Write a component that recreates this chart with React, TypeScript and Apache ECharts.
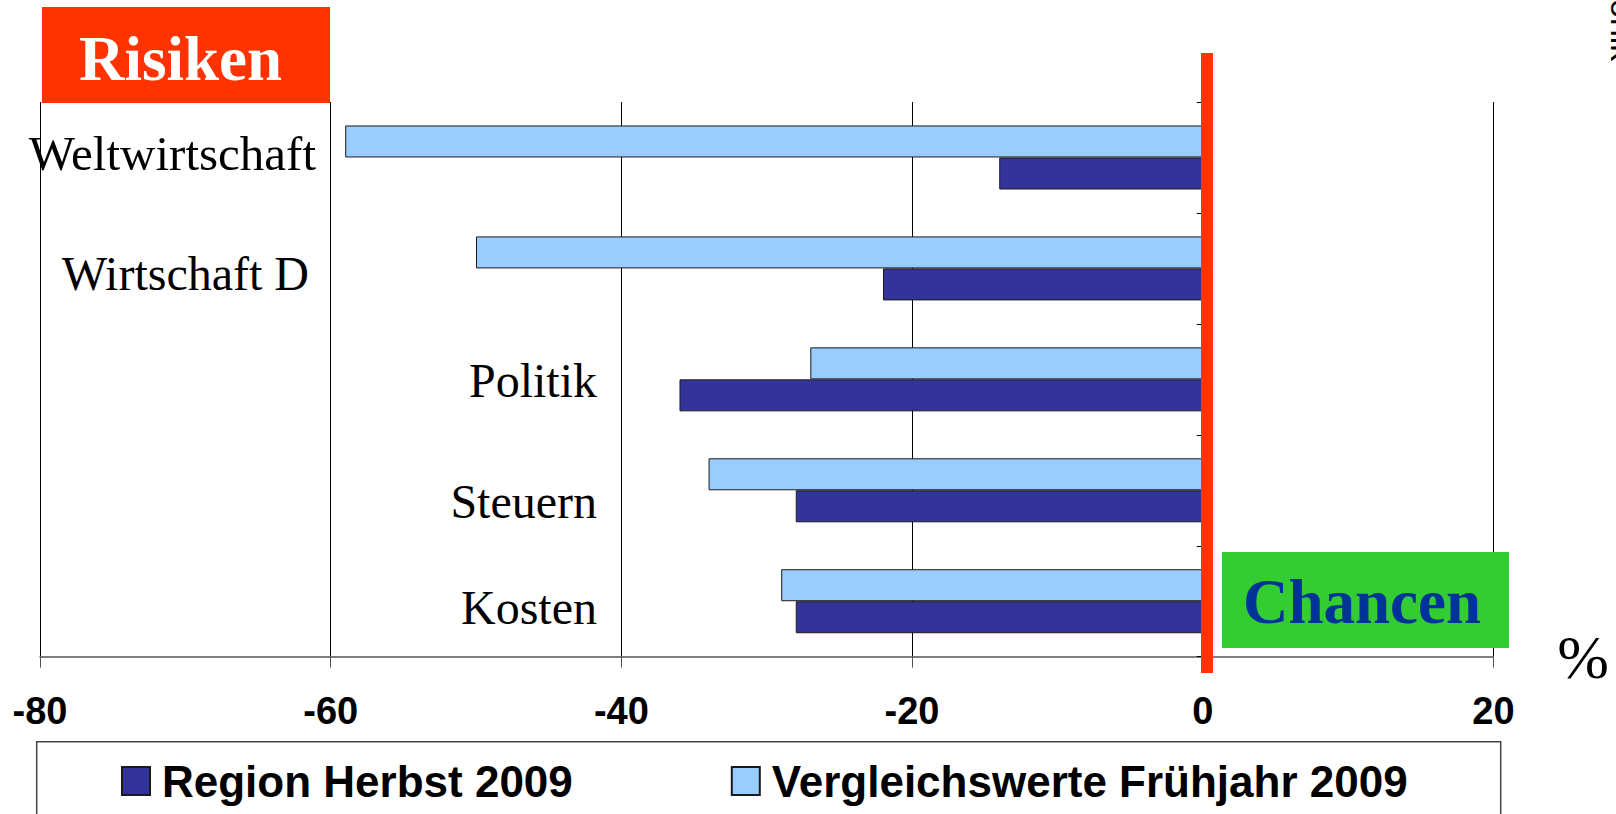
import React, { useEffect, useRef } from "react";
import * as echarts from "echarts";

const categories = ["Weltwirtschaft", "Wirtschaft D", "Politik", "Steuern", "Kosten"];
const regionHerbst2009 = [-14, -22, -36, -28, -28];
const vergleichFruehjahr2009 = [-59, -50, -27, -34, -29];
const seriesNames = ["Region Herbst 2009", "Vergleichswerte Frühjahr 2009"];
const xMin = -80;
const xMax = 20;
const xStep = 20;
const riskTitle = "Risiken";
const chanceTitle = "Chancen";
const unitLabel = "%";
const sideNote = "onik";

const SERIF = '"Liberation Serif", "Times New Roman", serif';
const SANS = '"Liberation Sans", Arial, sans-serif';

// positions of the category names (right edge, vertical centre)
const catLabelPos: [number, number][] = [
  [316, 153],
  [309, 273],
  [597, 380],
  [597, 501],
  [597, 607],
];

export default function App() {
  const ref = useRef<HTMLDivElement>(null);

  useEffect(() => {
    if (!ref.current) return;
    const chart = echarts.init(ref.current, undefined, { renderer: "svg" });

    const catTexts = categories.map((c, i) => ({
      type: "text",
      x: catLabelPos[i][0],
      y: catLabelPos[i][1],
      z: 100,
      style: {
        text: c,
        font: `${i === 0 ? 49 : 48}px ${SERIF}`,
        fill: "#000",
        align: "right",
        verticalAlign: "middle",
      },
    }));

    chart.setOption({
      animation: false,
      backgroundColor: "#fff",
      grid: { left: 40, right: 122.6, top: 102, bottom: 157.3, containLabel: false },
      xAxis: {
        type: "value",
        min: xMin,
        max: xMax,
        interval: xStep,
        position: "bottom",
        axisLine: { show: true, lineStyle: { color: "#555", width: 1.5 } },
        axisTick: { show: true, length: 11, lineStyle: { color: "#555", width: 1 } },
        splitLine: { show: true, lineStyle: { color: "#000", width: 1 } },
        axisLabel: {
          fontSize: 38,
          fontWeight: "bold",
          fontFamily: SANS,
          color: "#000",
          margin: 35,
        },
      },
      yAxis: {
        type: "category",
        data: categories,
        inverse: true,
        axisLine: { show: true, onZero: true, lineStyle: { color: "#000", width: 1 } },
        axisTick: { show: true, length: 6, lineStyle: { color: "#000" } },
        axisLabel: { show: false },
        splitLine: { show: false },
      },
      legend: {
        data: seriesNames,
        left: 121,
        top: 759,
        padding: 0,
        itemWidth: 28,
        itemHeight: 28,
        itemGap: 158,
        icon: "rect",
        textStyle: {
          fontSize: 44,
          fontWeight: "bold",
          fontFamily: SANS,
          color: "#000",
          padding: [0, 0, 0, 7],
        },
      },
      series: [
        {
          name: seriesNames[1],
          type: "bar",
          data: vergleichFruehjahr2009,
          barWidth: 32,
          barGap: "0%",
          itemStyle: { color: "#99CCFF", borderColor: "#1a1a1a", borderWidth: 1 },
        },
        {
          name: seriesNames[0],
          type: "bar",
          data: regionHerbst2009,
          barWidth: 32,
          barGap: "0%",
          itemStyle: { color: "#333399", borderColor: "#1a1a1a", borderWidth: 1 },
        },
      ],
      graphic: [
        {
          type: "rect",
          z: 100,
          shape: { x: 42, y: 7, width: 288, height: 96 },
          style: { fill: "#FF3300" },
        },
        {
          type: "text",
          z: 101,
          x: 180.5,
          y: 58.5,
          style: {
            text: riskTitle,
            font: `bold 63px ${SERIF}`,
            fill: "#fff",
            align: "center",
            verticalAlign: "middle",
          },
        },
        {
          type: "rect",
          z: 100,
          shape: { x: 1222, y: 552, width: 287, height: 96 },
          style: { fill: "#33CC33" },
        },
        {
          type: "text",
          z: 101,
          x: 1362,
          y: 602,
          style: {
            text: chanceTitle,
            font: `bold 63px ${SERIF}`,
            fill: "#003399",
            align: "center",
            verticalAlign: "middle",
          },
        },
        {
          type: "rect",
          z: 102,
          shape: { x: 1201, y: 53, width: 12, height: 620 },
          style: { fill: "#FF3300" },
        },
        {
          type: "text",
          z: 100,
          x: 1583,
          y: 657,
          style: {
            text: unitLabel,
            font: `62px ${SERIF}`,
            fill: "#000",
            align: "center",
            verticalAlign: "middle",
          },
        },
        {
          type: "text",
          z: 100,
          x: 1606,
          y: -1,
          rotation: -Math.PI / 2,
          style: {
            text: sideNote,
            font: `34px ${SANS}`,
            fill: "#000",
            align: "left",
            verticalAlign: "bottom",
          },
        },
        {
          type: "rect",
          z: 100,
          shape: { x: 36.7, y: 741.7, width: 1464, height: 120 },
          style: { fill: "none", stroke: "#444", lineWidth: 1.5 },
        },
        ...catTexts,
      ],
    });

    return () => {
      chart.dispose();
    };
  }, []);

  return (
    <div
      ref={ref}
      style={{ position: "fixed", left: 0, top: 0, width: 1616, height: 814 }}
    />
  );
}
